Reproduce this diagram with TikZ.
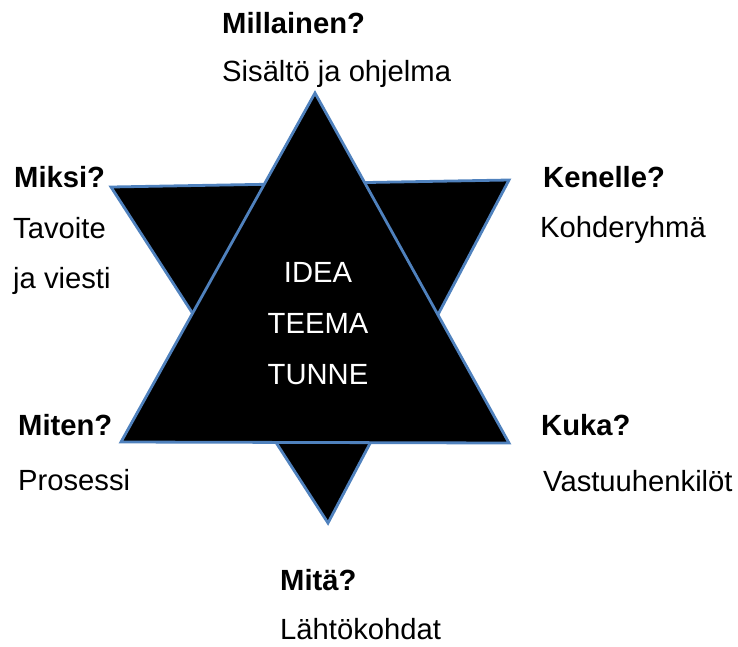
\documentclass[tikz,border=0pt]{standalone}
\usepackage{fontspec}
\setmainfont{Liberation Sans}
\definecolor{kantti}{HTML}{4F81BD}
\tikzset{
  kysymys/.style={font=\fontsize{29.2}{35}\selectfont\bfseries,anchor=base west,inner sep=0pt},
  vastaus/.style={font=\fontsize{29.2}{35}\selectfont,anchor=base west,inner sep=0pt},
  keski/.style={font=\fontsize{29.2}{35}\selectfont,anchor=base,inner sep=0pt,text=white},
  kolmio/.style={fill=black,draw=kantti,line width=2.8pt,line join=miter}
}
\begin{document}
\begin{tikzpicture}[x=1pt,y=-1pt]
      \useasboundingbox (0,0) rectangle (738,646);
          %alaspain osoittava kolmio
          \coordinate (dv) at (111,187);
          \coordinate (do) at (509,180);
          \coordinate (da) at (328,523);
          \draw[kolmio] (dv) -- (do) -- (da) -- cycle;
          %ylospain osoittava kolmio
          \coordinate (yk) at (315,93);
          \coordinate (yv) at (121,442);
          \coordinate (yo) at (509,443);
          \draw[kolmio] (yk) -- (yv) -- (yo) -- cycle;
          %keskella
          \node[keski] (idea) at (318,282) {IDEA};
          \node[keski] (teema) at (318,333) {TEEMA};
          \node[keski] (tunne) at (318,384) {TUNNE};
          %ylhaalla
          \node[kysymys] (millainen) at (222,33) {Millainen?};
          \node[vastaus] (sisalto) at (222,81) {Sisältö ja ohjelma};
          %vasemmalla
          \node[kysymys] (miksi) at (14,187) {Miksi?};
          \node[vastaus] (tavoite) at (13,238) {Tavoite};
          \node[vastaus] (viesti) at (13,288) {ja viesti};
          \node[kysymys] (miten) at (18,435) {Miten?};
          \node[vastaus] (prosessi) at (18,490) {Prosessi};
          %oikealla
          \node[kysymys] (kenelle) at (543,187) {Kenelle?};
          \node[vastaus] (kohde) at (540,237) {Kohderyhmä};
          \node[kysymys] (kuka) at (541,435) {Kuka?};
          \node[vastaus] (vastuu) at (543,491) {Vastuuhenkilöt};
          %alhaalla
          \node[kysymys] (mita) at (280,590) {Mitä?};
          \node[vastaus] (lahto) at (280,639) {Lähtökohdat};
    \end{tikzpicture}
\end{document}
